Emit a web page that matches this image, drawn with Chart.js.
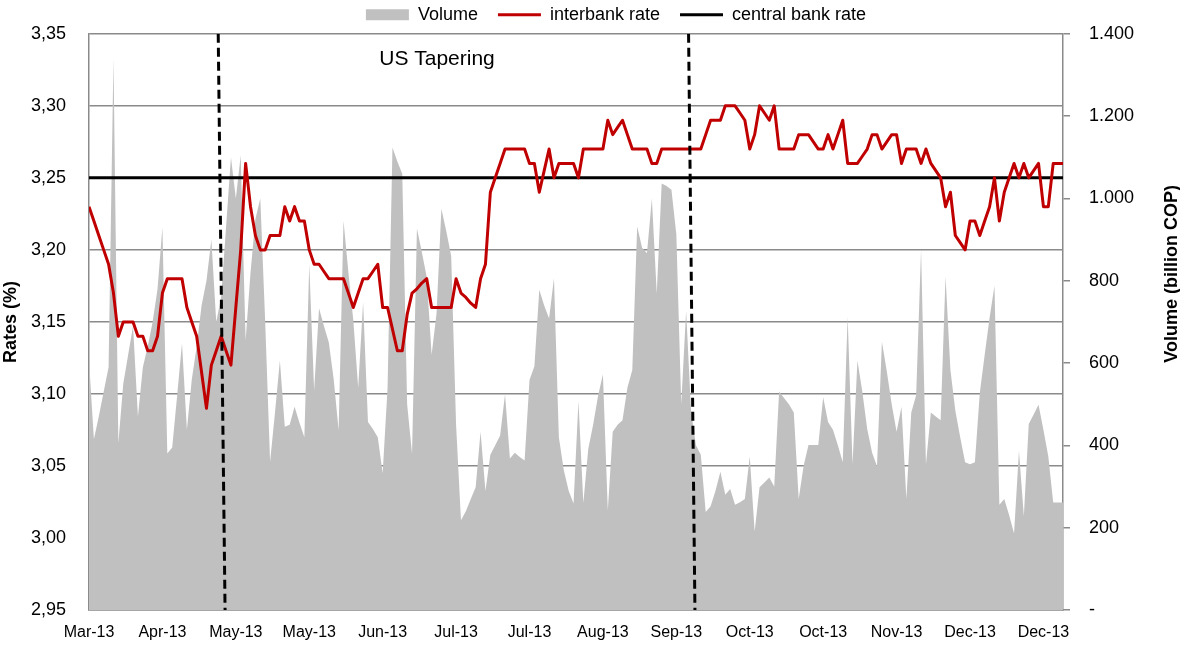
<!DOCTYPE html>
<html lang="en">
<head>
<meta charset="UTF-8">
<title>Interbank rate and volume, 2013</title>
<script src="https://cdn.jsdelivr.net/npm/chart.js"></script>
<style>
  body { margin: 0; background: #fff; }
  #chart { display: block; }
</style>
</head>
<body>
<canvas id="chart" width="1180" height="645"></canvas>
<script>
// one label every 15 trading days
const tickLabels = ['Mar-13', 'Apr-13', 'May-13', 'May-13', 'Jun-13', 'Jul-13', 'Jul-13',
                    'Aug-13', 'Sep-13', 'Oct-13', 'Oct-13', 'Nov-13', 'Dec-13', 'Dec-13'];
const tickStep = 15;

// interbank rate (%), one value per trading day
const interbankRate = [
  3.23, 3.22, 3.21, 3.20, 3.19, 3.17, 3.14, 3.15, 3.15, 3.15,
  3.14, 3.14, 3.13, 3.13, 3.14, 3.17, 3.18, 3.18, 3.18, 3.18,
  3.16, 3.15, 3.14, 3.115, 3.09, 3.12, 3.13, 3.14, 3.13, 3.12,
  3.16, 3.20, 3.26, 3.23, 3.21, 3.20, 3.20, 3.21, 3.21, 3.21,
  3.23, 3.22, 3.23, 3.22, 3.22, 3.20, 3.19, 3.19, 3.185, 3.18,
  3.18, 3.18, 3.18, 3.17, 3.16, 3.17, 3.18, 3.18, 3.185, 3.19,
  3.16, 3.16, 3.145, 3.13, 3.13, 3.155, 3.17, 3.173, 3.177, 3.18,
  3.16, 3.16, 3.16, 3.16, 3.16, 3.18, 3.17, 3.167, 3.163, 3.16,
  3.18, 3.19, 3.24, 3.25, 3.26, 3.27, 3.27, 3.27, 3.27, 3.27,
  3.26, 3.26, 3.24, 3.255, 3.27, 3.25, 3.26, 3.26, 3.26, 3.26,
  3.25, 3.27, 3.27, 3.27, 3.27, 3.27, 3.29, 3.28, 3.285, 3.29,
  3.28, 3.27, 3.27, 3.27, 3.27, 3.26, 3.26, 3.27, 3.27, 3.27,
  3.27, 3.27, 3.27, 3.27, 3.27, 3.27, 3.28, 3.29, 3.29, 3.29,
  3.30, 3.30, 3.30, 3.295, 3.29, 3.27, 3.28, 3.30, 3.295, 3.29,
  3.30, 3.27, 3.27, 3.27, 3.27, 3.28, 3.28, 3.28, 3.275, 3.27,
  3.27, 3.28, 3.27, 3.28, 3.29, 3.26, 3.26, 3.26, 3.265, 3.27,
  3.28, 3.28, 3.27, 3.275, 3.28, 3.28, 3.26, 3.27, 3.27, 3.27,
  3.26, 3.27, 3.26, 3.255, 3.25, 3.23, 3.24, 3.21, 3.205, 3.20,
  3.22, 3.22, 3.21, 3.22, 3.23, 3.25, 3.22, 3.24, 3.25, 3.26,
  3.25, 3.26, 3.25, 3.255, 3.26, 3.23, 3.23, 3.26, 3.26, 3.26
];

// traded volume (billion COP)
const volume = [
  606, 415, 470, 530, 590, 1340, 405, 550, 620, 690,
  470, 590, 640, 700, 780, 930, 380, 395, 520, 648,
  438, 560, 640, 740, 800, 900, 700, 760, 930, 1100,
  1000, 1105, 655, 820, 950, 1000, 700, 360, 480, 606,
  445, 450, 494, 455, 420, 840, 534, 733, 690, 650,
  560, 437, 946, 820, 704, 540, 748, 457, 440, 420,
  332, 540, 1124, 1090, 1060, 500, 380, 927, 870, 809,
  620, 720, 975, 920, 860, 450, 218, 240, 270, 298,
  433, 289, 377, 400, 424, 524, 368, 382, 372, 363,
  559, 592, 778, 740, 708, 806, 420, 340, 290, 259,
  508, 260, 391, 450, 520, 573, 242, 433, 450, 461,
  540, 583, 932, 880, 867, 1000, 769, 1036, 1030, 1021,
  913, 500, 727, 485, 400, 377, 238, 252, 290, 336,
  280, 294, 256, 262, 270, 373, 191, 298, 310, 322,
  300, 531, 515, 500, 480, 270, 350, 401, 401, 401,
  517, 457, 438, 400, 359, 713, 354, 606, 530, 440,
  382, 349, 652, 580, 500, 433, 494, 270, 480, 522,
  876, 354, 480, 470, 461, 811, 583, 485, 420, 359,
  354, 359, 527, 620, 710, 788, 256, 270, 230, 186,
  387, 228, 452, 475, 499, 438, 373, 261, 261, 261
];

const centralBankRate = 3.25;
const rateMin = 2.95;
const rateMax = 3.35;

// dashed markers around the tapering episode (trading-day index at top and bottom)
const taperStart = [26.4, 27.8];
const taperEnd = [122.5, 123.8];
const taperLabel = 'US Tapering';
const taperLabelAt = [71.1, 3.3325];

const gridColor = '#8a8a8a';
const fontFamily = "'Liberation Sans', Arial, sans-serif";

Chart.defaults.font.family = fontFamily;
Chart.defaults.color = '#000';

const days = volume.map((_, i) => i);

function fmtVolume(v) {
    if (v === 0) return '-';
    if (v >= 1000) return Math.floor(v / 1000) + '.' + String(v % 1000).padStart(3, '0');
    return String(v);
}

const extras = {
    id: 'extras',
    afterLayout(chart) {
        // the legend sits a bit right of the canvas centre in the original
        chart.legend.left += 26;
        chart.legend.right += 26;
    },
    afterDraw(chart) {
        const ctx = chart.ctx;
        const {x, y} = chart.scales;
        ctx.save();
        ctx.fillStyle = '#000';
        ctx.font = '21px ' + fontFamily;
        ctx.textAlign = 'center';
        ctx.textBaseline = 'middle';
        ctx.fillText(taperLabel, x.getPixelForValue(taperLabelAt[0]), y.getPixelForValue(taperLabelAt[1]));

        // right axis title reads bottom to top, like the left one
        ctx.translate(chart.width - 8, chart.chartArea.top + 240);
        ctx.rotate(-Math.PI / 2);
        ctx.font = 'bold 18px ' + fontFamily;
        ctx.fillText('Volume (billion COP)', 0, 0);
        ctx.restore();
    }
};

new Chart(document.getElementById('chart'), {
    type: 'line',
    data: {
        datasets: [
            {
                label: 'Volume',
                data: days.map(i => ({x: i, y: volume[i]})),
                yAxisID: 'yVol',
                fill: 'origin',
                backgroundColor: '#c0c0c0',
                borderColor: 'transparent',
                borderWidth: 0,
                pointRadius: 0,
                pointStyle: 'rect',
                order: 5
            },
            {
                label: 'interbank rate',
                data: days.map(i => ({x: i, y: interbankRate[i]})),
                yAxisID: 'y',
                borderColor: '#c00000',
                backgroundColor: '#c00000',
                borderWidth: 3,
                borderJoinStyle: 'round',
                pointRadius: 0,
                pointStyle: 'line',
                order: 2
            },
            {
                label: 'central bank rate',
                data: [{x: 0, y: centralBankRate}, {x: days.length - 1, y: centralBankRate}],
                yAxisID: 'y',
                borderColor: '#000',
                backgroundColor: '#000',
                borderWidth: 3,
                pointRadius: 0,
                pointStyle: 'line',
                order: 3
            },
            {
                label: 'taper start',
                data: [{x: taperStart[0], y: rateMax}, {x: taperStart[1], y: rateMin}],
                yAxisID: 'y',
                borderColor: '#000',
                borderWidth: 3,
                borderDash: [9, 5],
                pointRadius: 0,
                order: 0
            },
            {
                label: 'taper end',
                data: [{x: taperEnd[0], y: rateMax}, {x: taperEnd[1], y: rateMin}],
                yAxisID: 'y',
                borderColor: '#000',
                borderWidth: 3,
                borderDash: [9, 5],
                pointRadius: 0,
                order: 0
            }
        ]
    },
    options: {
        responsive: false,
        animation: false,
        layout: { padding: { top: -15, left: 0, right: 0, bottom: 0 } },
        plugins: {
            legend: {
                labels: {
                    usePointStyle: true,
                    pointStyleWidth: 43,
                    boxHeight: 11,
                    padding: 20,
                    color: '#000',
                    font: { size: 18 },
                    filter: item => item.datasetIndex < 3,
                    sort: (a, b) => a.datasetIndex - b.datasetIndex
                }
            },
            tooltip: { enabled: false }
        },
        scales: {
            x: {
                type: 'linear',
                min: 0,
                max: days.length - 1,
                grid: { display: false, drawTicks: false },
                border: { color: gridColor, width: 1.5 },
                ticks: {
                    stepSize: tickStep,
                    includeBounds: false,
                    autoSkip: false,
                    maxRotation: 0,
                    padding: 13,
                    font: { size: 16 },
                    callback: v => tickLabels[v / tickStep] ?? ''
                },
                afterFit: s => { s.height = 35; }
            },
            y: {
                position: 'left',
                min: rateMin,
                max: rateMax,
                ticks: {
                    stepSize: 0.05,
                    padding: 23,
                    font: { size: 18 },
                    callback: v => v.toFixed(2).replace('.', ',')
                },
                grid: { color: gridColor, lineWidth: 1.5, drawTicks: false },
                border: { color: gridColor, width: 1.5 },
                title: { display: true, text: 'Rates (%)', font: { size: 18, weight: 'bold' }, padding: 0 },
                afterFit: s => { s.width = 89; }
            },
            yVol: {
                position: 'right',
                min: 0,
                max: 1400,
                ticks: {
                    stepSize: 200,
                    padding: 19,
                    font: { size: 18 },
                    callback: fmtVolume
                },
                grid: { drawOnChartArea: false, color: gridColor, lineWidth: 1.5, tickLength: 7 },
                border: { color: gridColor, width: 1.5 },
                afterFit: s => { s.width = 117; }
            }
        }
    },
    plugins: [extras]
});
</script>
</body>
</html>
